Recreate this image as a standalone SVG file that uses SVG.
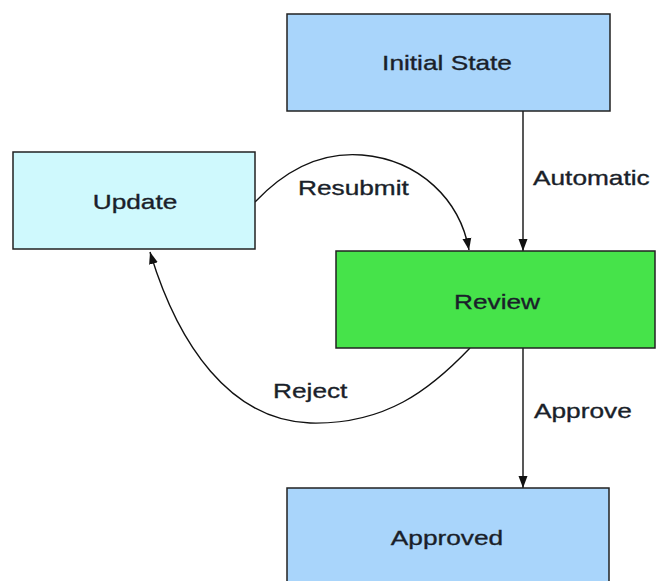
<svg xmlns="http://www.w3.org/2000/svg" width="656" height="581" viewBox="0 0 656 581">
<defs>
<marker id="arr" viewBox="0 0 12 12" refX="12" refY="6" markerWidth="12" markerHeight="12" markerUnits="userSpaceOnUse" orient="auto">
<path d="M0,1.5 L12,6 L0,10.5 Z" fill="#111"/>
</marker>
<style>
.box{stroke:#222;stroke-width:1.5}
.lbl{font-family:"Liberation Sans",Arial,sans-serif;font-size:21px;fill:#1a1f2a;stroke:#1a1f2a;stroke-width:0.35}
.edge{fill:none;stroke:#111;stroke-width:1.4}
</style>
</defs>
<rect width="656" height="581" fill="#fff"/>
<g id="connectors">
<path class="edge" d="M523,111 L523,251" marker-end="url(#arr)"/>
<path class="edge" d="M523,348 L523,488" marker-end="url(#arr)"/>
<path class="edge" d="M255,202 C290,165 325,152 362,155 C420,160 460,200 469,250" marker-end="url(#arr)"/>
<path class="edge" d="M470,348 C430,390 385,425 310,423 C230,420 178,345 150,252" marker-end="url(#arr)"/>
<text class="lbl" transform="translate(533,185) scale(1.25,1)">Automatic</text>
<text class="lbl" transform="translate(298,195) scale(1.25,1)">Resubmit</text>
<text class="lbl" transform="translate(273,398) scale(1.25,1)">Reject</text>
<text class="lbl" transform="translate(534,418) scale(1.25,1)">Approve</text>
</g>
<g id="initial">
<rect class="box" x="287" y="14" width="323" height="97" fill="#a9d5fb"/>
<text class="lbl" text-anchor="middle" transform="translate(447,70) scale(1.25,1)">Initial State</text>
</g>
<g id="update">
<rect class="box" x="13" y="152" width="242" height="97" fill="#cff9fd"/>
<text class="lbl" text-anchor="middle" transform="translate(135,209) scale(1.25,1)">Update</text>
</g>
<g id="review">
<rect class="box" x="336" y="251" width="319" height="97" fill="#46e34a"/>
<text class="lbl" text-anchor="middle" transform="translate(497,309) scale(1.25,1)">Review</text>
</g>
<g id="approved">
<rect class="box" x="287" y="488" width="322" height="100" fill="#a9d5fb"/>
<text class="lbl" text-anchor="middle" transform="translate(447,545) scale(1.25,1)">Approved</text>
</g>
</svg>
